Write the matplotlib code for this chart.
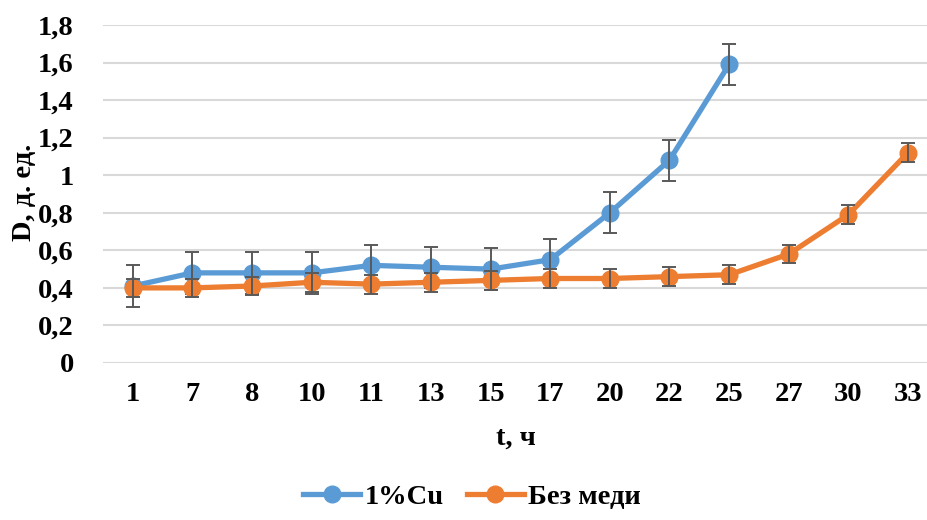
import matplotlib
matplotlib.use("Agg")
import matplotlib.pyplot as plt
import numpy as np

categories = ["1", "7", "8", "10", "11", "13", "15", "17", "20", "22", "25", "27", "30", "33"]
cu_values = [0.41, 0.48, 0.48, 0.48, 0.52, 0.51, 0.50, 0.55, 0.80, 1.08, 1.59]
cu_err = [0.11, 0.11, 0.11, 0.11, 0.11, 0.11, 0.11, 0.11, 0.11, 0.11, 0.11]
nocu_values = [0.40, 0.40, 0.41, 0.43, 0.42, 0.43, 0.44, 0.45, 0.45, 0.46, 0.47, 0.58, 0.79, 1.12]
nocu_err = [0.05, 0.05, 0.05, 0.05, 0.05, 0.05, 0.05, 0.05, 0.05, 0.05, 0.05, 0.05, 0.05, 0.05]
y_ticks = [0, 0.2, 0.4, 0.6, 0.8, 1.0, 1.2, 1.4, 1.6, 1.8]
y_tick_labels = ["0", "0,2", "0,4", "0,6", "0,8", "1", "1,2", "1,4", "1,6", "1,8"]

plt.rcParams['font.family'] = ['Liberation Serif', 'DejaVu Serif']
plt.rcParams['font.weight'] = 'bold'

FS = 20.5

fig = plt.figure(figsize=(9.28, 5.2), dpi=100)
ax = fig.add_axes([103/928, 157/520, (928-103)/928, (363-25)/520])

blue = "#5B9BD5"
orange = "#ED7D31"
errc = "#595959"

x_cu = np.arange(len(cu_values))
x_no = np.arange(len(nocu_values))

ax.plot(x_cu, cu_values, color=blue, lw=3.8, marker='o', ms=12, label="1%Cu", zorder=3)
ax.errorbar(x_cu, cu_values, yerr=cu_err, fmt='none', ecolor=errc, elinewidth=1.4, capsize=5, capthick=1.4, zorder=4)
ax.plot(x_no, nocu_values, color=orange, lw=3.8, marker='o', ms=12, label="Без меди", zorder=5)
ax.errorbar(x_no, nocu_values, yerr=nocu_err, fmt='none', ecolor=errc, elinewidth=1.4, capsize=5, capthick=1.4, zorder=6)

ax.set_xlim(-0.5, 13 + 20/59.6)
ax.set_ylim(0, 1.8)
ax.set_xticks(np.arange(len(categories)))
ax.set_xticklabels(categories, fontsize=FS, fontweight='bold')
ax.set_yticks(y_ticks)
ax.set_yticklabels(y_tick_labels, fontsize=FS, fontweight='bold')
ax.tick_params(axis='x', length=0, pad=14)
ax.tick_params(axis='y', length=0, pad=21)
ax.grid(axis='y', color='#D9D9D9', lw=1.5, zorder=0)
ax.set_axisbelow(True)
for s in ax.spines.values():
    s.set_visible(False)

ax.set_xlabel("t, ч", fontsize=FS, fontweight='bold', labelpad=13)
fig.text(25/928, 1 - 192/520, "D, д. ед.", rotation=90, fontsize=FS, fontweight='bold', ha='center', va='center')

fig.legend(loc='center', bbox_to_anchor=(472/928, 1 - 497/520), ncol=2, frameon=False,
           handlelength=2.0, columnspacing=0.8, handletextpad=0.15,
           prop={'weight': 'bold', 'size': FS})

fig.savefig("out.png", dpi=100)
